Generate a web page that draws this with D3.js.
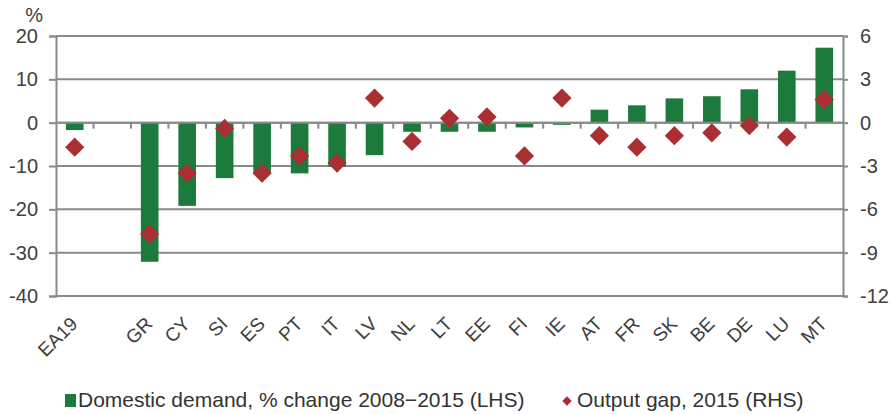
<!DOCTYPE html>
<html>
<head>
<meta charset="utf-8">
<script src="https://cdn.jsdelivr.net/npm/d3@7"></script>
<style>
  body { margin: 0; background: #fff; }
  svg { display: block; font-family: "Liberation Sans", Arial, sans-serif; }
</style>
</head>
<body>
<svg id="chart" width="893" height="414"></svg>
<script>
// values; the blank slot is a gap after EA19
const categories = ["EA19", " ", "GR", "CY", "SI", "ES", "PT", "IT", "LV", "NL", "LT",
  "EE", "FI", "IE", "AT", "FR", "SK", "BE", "DE", "LU", "MT"];
const domesticDemand = [-1.7, null, -32.1, -19.2, -12.8, -11.8, -11.7, -10.2, -7.5, -2.1, -2.1,
  -2.1, -1.1, -0.5, 3.0, 4.0, 5.6, 6.1, 7.7, 12.0, 17.3];
const outputGap = [-1.7, null, -7.7, -3.5, -0.4, -3.5, -2.3, -2.8, 1.7, -1.3, 0.3,
  0.4, -2.3, 1.7, -0.9, -1.7, -0.9, -0.7, -0.2, -1.0, 1.6];
const leftTicks = [20, 10, 0, -10, -20, -30, -40];
const rightTicks = [6, 3, 0, -3, -6, -9, -12];
const legendLabels = ["Domestic demand, % change 2008\u22122015 (LHS)", "Output gap, 2015 (RHS)"];

const green = "#1c7a3c", red = "#a92f33", grid = "#8a8a8a", ink = "#404040";

const svg = d3.select("#chart"),
  margin = { top: 36, right: 50, bottom: 118, left: 56 },
  width = +svg.attr("width") - margin.left - margin.right,
  height = +svg.attr("height") - margin.top - margin.bottom;

const g = svg.append("g").attr("transform", `translate(${margin.left},${margin.top})`);

const x = d3.scaleBand().domain(categories).range([0, width])
  .paddingInner(0.53).paddingOuter(0.265);
const yL = d3.scaleLinear().domain([-40, 20]).range([height, 0]);
const yR = d3.scaleLinear().domain([-12, 6]).range([height, 0]);

// gridlines
g.append("g").selectAll("line").data(leftTicks).join("line")
  .attr("x1", 0).attr("x2", width)
  .attr("y1", d => yL(d)).attr("y2", d => yL(d))
  .attr("stroke", grid).attr("stroke-width", 2);

// axes, plain hyphen for negatives like the original
const plain = d => String(d);
const gl = g.append("g")
  .call(d3.axisLeft(yL).tickValues(leftTicks).tickFormat(plain).tickSize(7).tickPadding(11));
const gr = g.append("g").attr("transform", `translate(${width},0)`)
  .call(d3.axisRight(yR).tickValues(rightTicks).tickFormat(plain).tickSize(5).tickPadding(12));
[gl, gr].forEach(a => {
  a.select(".domain").attr("stroke", grid).attr("stroke-width", 2);
  a.selectAll(".tick line").attr("stroke", grid).attr("stroke-width", 2);
  a.selectAll(".tick text").attr("fill", ink).style("font-size", "20px");
});

g.append("text").attr("x", -13).attr("y", -14).attr("text-anchor", "end")
  .attr("fill", ink).style("font-size", "20px").text("%");

const data = categories.map((c, i) => ({ c, v: domesticDemand[i], gap: outputGap[i] }));

// bars
g.append("g").selectAll("rect").data(data.filter(d => d.v !== null)).join("rect")
  .attr("x", d => x(d.c))
  .attr("width", x.bandwidth())
  .attr("y", d => yL(Math.max(0, d.v)))
  .attr("height", d => Math.abs(yL(d.v) - yL(0)))
  .attr("fill", green);

// category axis along zero
const step = x.step();
g.append("line").attr("x1", 0).attr("x2", width).attr("y1", yL(0)).attr("y2", yL(0))
  .attr("stroke", grid).attr("stroke-width", 2);
g.append("g").selectAll("line").data(d3.range(1, categories.length)).join("line")
  .attr("x1", k => k * step).attr("x2", k => k * step)
  .attr("y1", yL(0)).attr("y2", yL(0) + 6)
  .attr("stroke", grid).attr("stroke-width", 2);

// category labels
g.append("g").selectAll("text").data(categories).join("text")
  .attr("transform", d => `translate(${x(d) + x.bandwidth() / 2 + 4},${height + 29}) rotate(-45)`)
  .attr("text-anchor", "end")
  .attr("fill", ink).style("font-size", "19px")
  .text(d => d.trim());

// output gap diamonds
const diamond = d3.symbol().type(d3.symbolSquare).size(185);
g.append("g").selectAll("path").data(data.filter(d => d.gap !== null)).join("path")
  .attr("d", diamond)
  .attr("transform", d => `translate(${x(d.c) + x.bandwidth() / 2},${yR(d.gap)}) rotate(45)`)
  .attr("fill", red);

// legend
const lg = svg.append("g").attr("transform", "translate(0,407)");
lg.append("rect").attr("x", 65).attr("y", -13).attr("width", 11).attr("height", 13).attr("fill", green);
lg.append("text").attr("x", 78).attr("y", 0).attr("fill", "#333").style("font-size", "21px").text(legendLabels[0]);
lg.append("path").attr("d", d3.symbol().type(d3.symbolSquare).size(45))
  .attr("transform", "translate(567,-6) rotate(45)").attr("fill", red);
lg.append("text").attr("x", 577).attr("y", 0).attr("fill", "#333").style("font-size", "21px").text(legendLabels[1]);
</script>
</body>
</html>
